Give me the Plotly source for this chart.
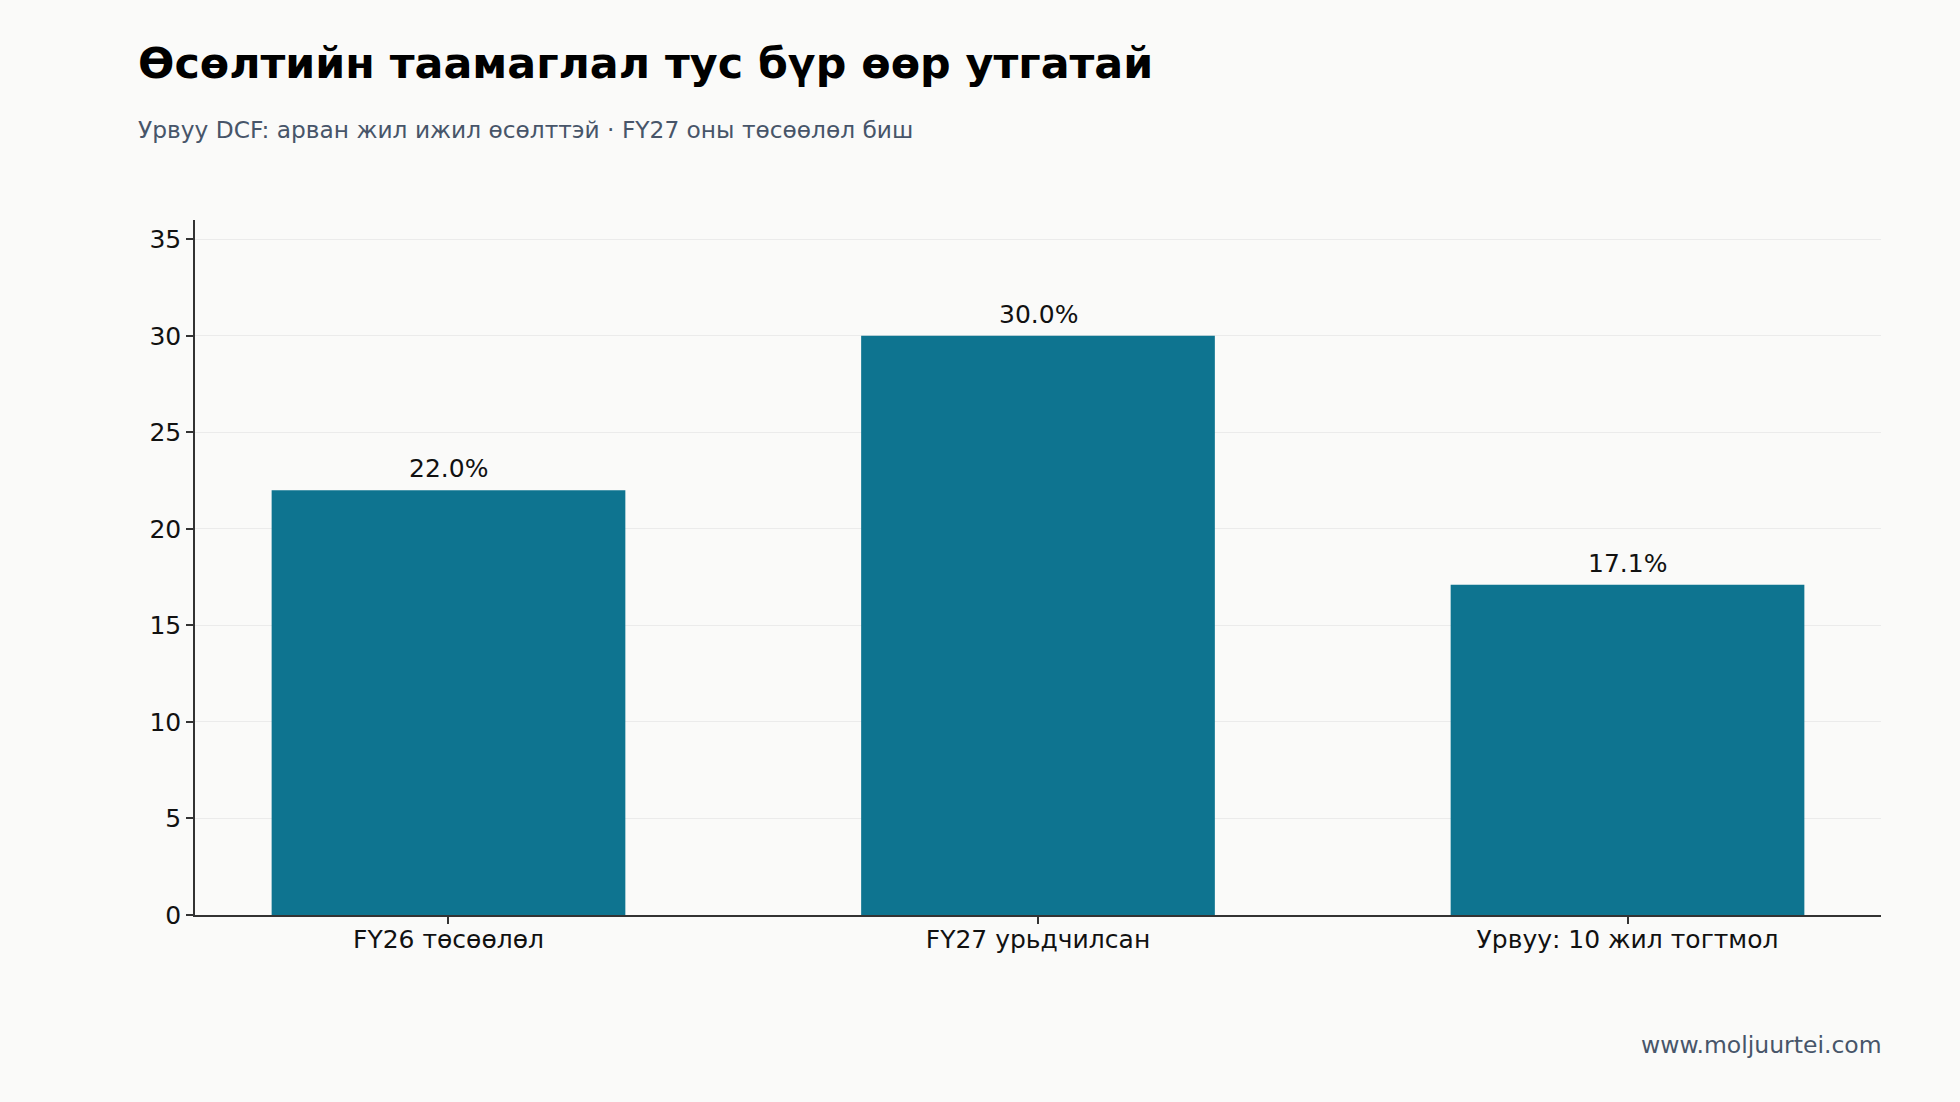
import plotly.graph_objects as go

# data
categories = ["FY26 төсөөлөл", "FY27 урьдчилсан", "Урвуу: 10 жил тогтмол"]
growth_pct = [22.0, 30.0, 17.1]
bar_labels = ["22.0%", "30.0%", "17.1%"]
y_ticks = [0, 5, 10, 15, 20, 25, 30, 35]

title_text = "Өсөлтийн таамаглал тус бүр өөр утгатай"
subtitle_text = "Урвуу DCF: арван жил ижил өсөлттэй · FY27 оны төсөөлөл биш"
source_text = "www.moljuurtei.com"

# page geometry
W, H = 1960, 1102
ML, MR, MT, MB = 195, 79, 220, 187
plot_w = W - ML - MR
plot_h = H - MT - MB

FONT = "DejaVu Sans"
BAR = "#0e7490"
BG = "#fafaf9"
SLATE = "#475569"


def px_x(px):
    # page pixel -> paper x
    return (px - ML) / plot_w


def px_y(px):
    # page pixel -> paper y
    return (H - MB - px) / plot_h


fig = go.Figure()
fig.add_trace(go.Bar(x=categories, y=growth_pct,
                     marker=dict(color=BAR, line=dict(width=0)),
                     width=0.6,
                     hoverinfo="skip"))

annotations = []
# value labels above bars
for cat, val, lab in zip(categories, growth_pct, bar_labels):
    annotations.append(dict(x=cat, y=val, xref="x", yref="y", text=lab,
                            showarrow=False, yanchor="bottom", yshift=5,
                            font=dict(family=FONT, size=25, color="#111111")))

# title, subtitle, source
annotations.append(dict(x=px_x(136), y=px_y(63), xref="paper", yref="paper",
                        text="<b>" + title_text + "</b>", showarrow=False,
                        xanchor="left", yanchor="middle",
                        font=dict(family=FONT, size=42.8, color="#000000")))
annotations.append(dict(x=px_x(136), y=px_y(130), xref="paper", yref="paper",
                        text=subtitle_text, showarrow=False,
                        xanchor="left", yanchor="middle",
                        font=dict(family=FONT, size=23.3, color=SLATE)))
annotations.append(dict(x=1, y=px_y(1045), xref="paper", yref="paper",
                        text=source_text, showarrow=False, xshift=3,
                        xanchor="right", yanchor="middle",
                        font=dict(family=FONT, size=23.5, color=SLATE)))

fig.update_layout(width=W, height=H,
                  margin=dict(l=ML, r=MR, t=MT, b=MB, pad=0),
                  paper_bgcolor=BG, plot_bgcolor=BG,
                  showlegend=False,
                  font=dict(family=FONT, size=25, color="#111111"),
                  annotations=annotations,
                  xaxis=dict(range=[-0.43, 2.43], showgrid=False, zeroline=False,
                             showline=True, linecolor="#333333", linewidth=1.5,
                             ticks="outside", ticklen=7, tickwidth=1.5, tickcolor="#333333",
                             ticklabelstandoff=-6,
                             tickfont=dict(family=FONT, size=25, color="#111111")),
                  yaxis=dict(range=[0, 36], tickvals=y_ticks, showgrid=True,
                             gridcolor="#ebebeb", gridwidth=1.2, zeroline=False,
                             showline=True, linecolor="#333333", linewidth=1.5,
                             ticks="outside", ticklen=7, tickwidth=1.5, tickcolor="#333333",
                             tickfont=dict(family=FONT, size=25, color="#111111")))

# drop the default page margin so the figure sits at the window corner
fig.write_html("out.html", config={"displayModeBar": False},
               post_script="document.body.style.margin='0';")
